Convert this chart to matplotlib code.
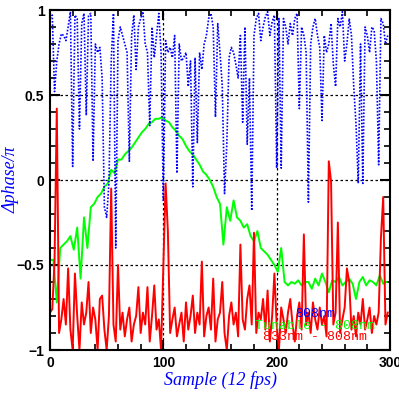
import numpy as np
import matplotlib
matplotlib.use("Agg")
import matplotlib.pyplot as plt
from matplotlib.ticker import MultipleLocator, FixedLocator

# Tunable - 808nm (every 3rd sample)
verde = [-0.47, -0.47, -0.72, -0.40, -0.38, -0.36, -0.33, -0.41, -0.28, -0.58,
         -0.22, -0.40, -0.16, -0.14, -0.10, -0.08, -0.04, -0.02, 0.06, 0.04,
         0.12, 0.12, 0.15, 0.17, 0.19, 0.22, 0.25, 0.28, 0.30, 0.33,
         0.34, 0.36, 0.36, 0.37, 0.35, 0.34, 0.31, 0.29, 0.26, 0.24,
         0.20, 0.17, 0.15, 0.12, 0.09, 0.05, 0.03, 0.00, -0.04, -0.10,
         -0.14, -0.38, -0.16, -0.24, -0.12, -0.22, -0.24, -0.28, -0.26, -0.33,
         -0.36, -0.30, -0.40, -0.42, -0.44, -0.47, -0.50, -0.54, -0.40, -0.60,
         -0.62, -0.60, -0.61, -0.59, -0.62, -0.60, -0.60, -0.64, -0.58, -0.62,
         -0.55, -0.60, -0.66, -0.59, -0.60, -0.57, -0.62, -0.60, -0.58, -0.61,
         -0.70, -0.60, -0.57, -0.62, -0.59, -0.60, -0.62, -0.56, -0.61, -0.60]

# 808nm (every 2nd sample)
azul = [0.95, 0.97, 0.52, 0.70, 0.80, 0.86, 0.85, 0.82, 0.90, 0.99,
        0.08, 0.97, 0.95, 0.30, 0.92, 0.98, 0.38, 0.97, 0.98, 0.11,
        0.80, 0.75, 0.78, 0.60, -0.16, -0.22, -0.02, 0.70, 0.98, -0.40,
        0.82, 0.90, 0.85, 0.80, 0.75, 0.11, 0.85, 0.97, 0.65, 0.90,
        0.95, 0.99, 0.80, 0.75, 0.32, 0.90, 0.72, 0.85, 0.98, 0.75,
        -0.12, 0.82, 0.75, 0.78, 0.72, 0.85, 0.04, 0.80, 0.70, 0.72,
        0.75, 0.55, 0.70, -0.04, 0.72, 0.22, 0.75, 0.65, 0.80, 0.85,
        0.95, 0.98, 0.90, 0.37, 0.92, 0.75, 0.55, -0.08, 0.21, 0.72,
        0.78, 0.75, 0.68, 0.60, 0.85, 0.34, 0.90, 0.21, 0.60, -0.18,
        0.85, 0.95, 0.98, 0.82, 0.90, 0.96, 0.99, 0.85, 0.93, 0.97,
        0.07, 0.95, 0.07, 0.95, 0.90, 0.80, 0.92, 0.85, 0.95, 0.98,
        0.42, 0.90, 0.85, 0.75, -0.13, 0.80, 0.90, 0.95, 0.85, 0.78,
        0.35, 0.85, 0.75, 0.80, 0.92, 0.68, 0.55, 0.95, 0.90, 0.99,
        0.70, 0.80, 0.95, 0.85, 0.55, 0.33, -0.02, 0.80, -0.02, 0.90,
        0.85, 0.75, 0.90, 0.88, 0.70, 0.09, 0.95, 0.92, 0.80, 0.85]

# 833nm - 808nm (every 2nd sample)
rojo = [-0.78, -0.76, -0.48, 0.42, -0.90, -0.82, -0.70, -0.85, -0.52, -0.88,
        -1.00, -0.55, -0.80, -1.00, -0.72, -0.85, -0.78, -0.60, -0.90, -0.75,
        -0.82, -1.00, -0.70, -0.68, -0.88, -1.00, -0.80, -0.05, -0.85, -0.95,
        -0.50, -0.88, -0.78, -0.92, -0.82, -0.75, -0.95, -0.85, -0.80, -0.63,
        -0.90, -0.78, -0.85, -0.63, -0.95, -0.80, -0.62, -0.88, -0.82, -1.00,
        -0.50, -0.02, -0.30, -0.90, -0.82, -0.75, -0.92, -0.85, -0.78, -0.95,
        -0.72, -0.88, -0.80, -0.68, -0.90, -0.78, -0.85, -0.48, -0.92, -0.80,
        -0.75, -0.88, -0.58, -0.95, -0.82, -0.78, -0.60, -0.90, -1.00, -0.80,
        -0.72, -0.85, -0.78, -0.92, -0.38, -0.82, -0.88, -0.70, -0.62, -0.85,
        -0.31, -0.90, -0.78, -0.82, -0.70, -0.88, -0.65, -0.95, -0.80, -0.55,
        -0.85, -1.00, -0.75, -0.82, -0.90, -0.78, -0.70, -0.85, -0.95, -0.80,
        -0.72, -0.88, -0.32, -0.85, -0.78, -0.90, -0.72, -0.82, -0.88, -0.75,
        -0.85, -0.80, -0.92, 0.11, -0.01, -0.85, -0.78, -0.25, -0.90, -0.82,
        -0.75, -0.52, -0.60, -0.88, -0.80, -0.92, -0.78, -0.85, -0.70, -0.88,
        -0.82, -0.75, -0.90, -0.80, -0.85, -0.78, -0.34, -0.10, -0.85, -0.78]

etiquetas = ["808nm", "Tunable - 808nm", "833nm - 808nm"]
colores = ["#0000ff", "#00ff00", "#ff0000"]

x_verde = np.arange(len(verde)) * 3
x_azul = np.arange(len(azul)) * 2
x_rojo = np.arange(len(rojo)) * 2

fig = plt.figure(figsize=(3.99, 3.99), dpi=100)
ax = fig.add_axes([50 / 399, 49 / 399, 340 / 399, 340 / 399])

ax.plot(x_verde, verde, color=colores[1], linewidth=1.4)
ax.plot(x_azul, azul, color=colores[0], linewidth=1.2, linestyle=(0, (1, 1)))
ax.plot(x_rojo, rojo, color=colores[2], linewidth=1.4)

ax.set_xlim(0, 300)
ax.set_ylim(-1, 1)

# grilla punteada
for yv in [-0.5, 0, 0.5]:
    ax.axhline(yv, color="black", linestyle=(0, (2, 2)), linewidth=0.9, zorder=1)
for xv in [100, 200]:
    ax.axvline(xv, color="black", linestyle=(0, (2, 2)), linewidth=0.9, zorder=1)

ax.xaxis.set_major_locator(FixedLocator([0, 100, 200, 300]))
ax.xaxis.set_minor_locator(MultipleLocator(20))
ax.yaxis.set_major_locator(FixedLocator([-1, -0.5, 0, 0.5, 1]))
ax.yaxis.set_minor_locator(MultipleLocator(0.1))
ax.set_xticklabels(["0", "100", "200", "300"])
ax.set_yticklabels(["\u22121", "\u22120.5", "0", "0.5", "1"])
ax.tick_params(which="both", direction="in", top=True, right=True, color="black")
ax.tick_params(which="major", length=7, width=1.5, labelsize=10, pad=4)
ax.tick_params(which="minor", length=4, width=1.2)
for lab in ax.get_xticklabels() + ax.get_yticklabels():
    lab.set_fontweight("bold")
    lab.set_family("Liberation Sans")

for s in ax.spines.values():
    s.set_linewidth(1.5)

ax.set_xlabel("Sample (12 fps)", color="blue", fontsize=13, fontstyle="italic",
              family="Liberation Serif", labelpad=1)
ax.set_ylabel("\u0394phase/\u03c0", color="blue", fontsize=13, fontstyle="italic",
              family="Liberation Serif", labelpad=0)
ax.yaxis.set_label_coords(-0.088, 0.5)

# leyenda como texto
for i, (txt, c) in enumerate(zip(etiquetas, colores)):
    ax.text(234, -0.79 - i * 0.066, txt, color=c, fontsize=9.5, ha="center", va="center",
            family="Liberation Mono", zorder=5)

fig.savefig("out.png", dpi=100)
